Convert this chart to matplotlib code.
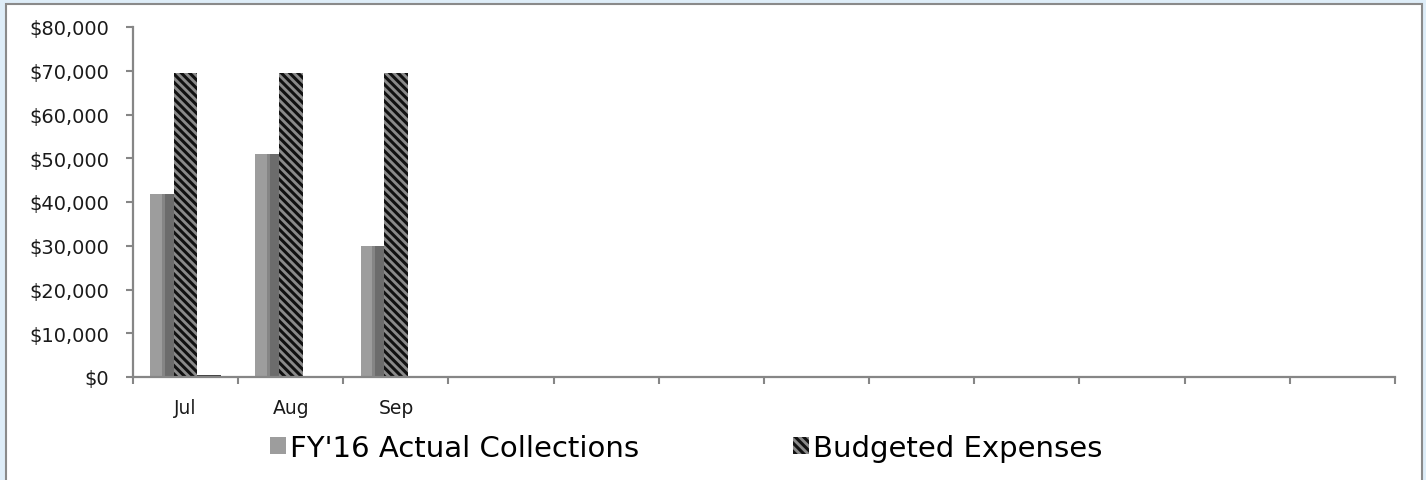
import matplotlib
matplotlib.use("Agg")
import matplotlib.pyplot as plt
from matplotlib.patches import Rectangle
from matplotlib.ticker import FuncFormatter
import numpy as np

# chart data
months = ['Jul', 'Aug', 'Sep', '', '', '', '', '', '', '', '', '']
collections = [41800, 51000, 30000, 0, 0, 0, 0, 0, 0, 0, 0, 0]
budgeted = [69500, 69500, 69500, 0, 0, 0, 0, 0, 0, 0, 0, 0]
other = [400, 0, 0, 0, 0, 0, 0, 0, 0, 0, 0, 0]

plt.rcParams['font.family'] = ['DejaVu Sans']
plt.rcParams['hatch.linewidth'] = 2.2

W, H = 1426, 481
fig = plt.figure(figsize=(W / 100, H / 100), dpi=100)
fig.patch.set_facecolor('#deedf8')
# white chart panel
fig.patches.append(Rectangle((6 / W, -0.05), (1422 - 6) / W, 1 - 5 / H + 0.05,
                             transform=fig.transFigure, facecolor='white',
                             edgecolor='#8a8a8a', linewidth=1.5, zorder=-5))

ax = fig.add_axes([133 / W, 1 - 378 / H, (1395 - 133) / W, (378 - 28) / H])
ax.set_facecolor('none')

x = np.arange(len(months))
w = 0.224

# collections bar with a simple bevel: light / mid / dark strips
col = np.array(collections)
b1 = ax.bar(x - 1.5 * w, col, width=w * 0.48, align='edge', color='#9d9d9d', zorder=2)
ax.bar(x - 1.5 * w + w * 0.48, col, width=w * 0.14, align='edge', color='#858585', zorder=2)
ax.bar(x - 1.5 * w + w * 0.62, col, width=w * 0.38, align='edge', color='#6c6c6c', zorder=2)

b2 = ax.bar(x, budgeted, width=w, color='#8a8a8a', edgecolor='#111111',
            hatch='\\\\\\\\', linewidth=0, zorder=2)
ax.bar(x + w, other, width=w, color='#404040', zorder=2)

ax.set_xlim(-0.5, len(months) - 0.5)
ax.set_ylim(0, 80000)
ax.set_yticks(np.arange(0, 80001, 10000))
ax.yaxis.set_major_formatter(FuncFormatter(lambda v, p: '${:,.0f}'.format(v)))
ax.set_xticks(x)
ax.set_xticklabels(months)
ax.set_xticks(np.arange(-0.5, len(months)), minor=True)

for s in ['top', 'right']:
    ax.spines[s].set_visible(False)
for s in ['left', 'bottom']:
    ax.spines[s].set_color('#868686')
    ax.spines[s].set_linewidth(1.6)

ax.tick_params(axis='y', length=5, width=1.5, color='#868686', pad=12,
               labelsize=14, labelcolor='#1a1a1a')
ax.tick_params(axis='x', which='major', length=0, pad=15, labelsize=13.5,
               labelcolor='#1a1a1a')
ax.tick_params(axis='x', which='minor', length=5, width=1.5, color='#868686')

# legend, one box per entry so each sits where it does in the chart
leg1 = fig.legend([b1[0]], ["FY'16 Actual Collections"], loc='center left',
                  bbox_to_anchor=(270 / W, 1 - 449 / H), frameon=False,
                  fontsize=21, handlelength=0.55, handleheight=0.55,
                  handletextpad=0.12, borderaxespad=0, borderpad=0)
leg2 = fig.legend([b2[0]], ['Budgeted Expenses'], loc='center left',
                  bbox_to_anchor=(793 / W, 1 - 449 / H), frameon=False,
                  fontsize=21, handlelength=0.55, handleheight=0.55,
                  handletextpad=0.12, borderaxespad=0, borderpad=0)

fig.savefig('out.png', dpi=100, facecolor=fig.get_facecolor())
